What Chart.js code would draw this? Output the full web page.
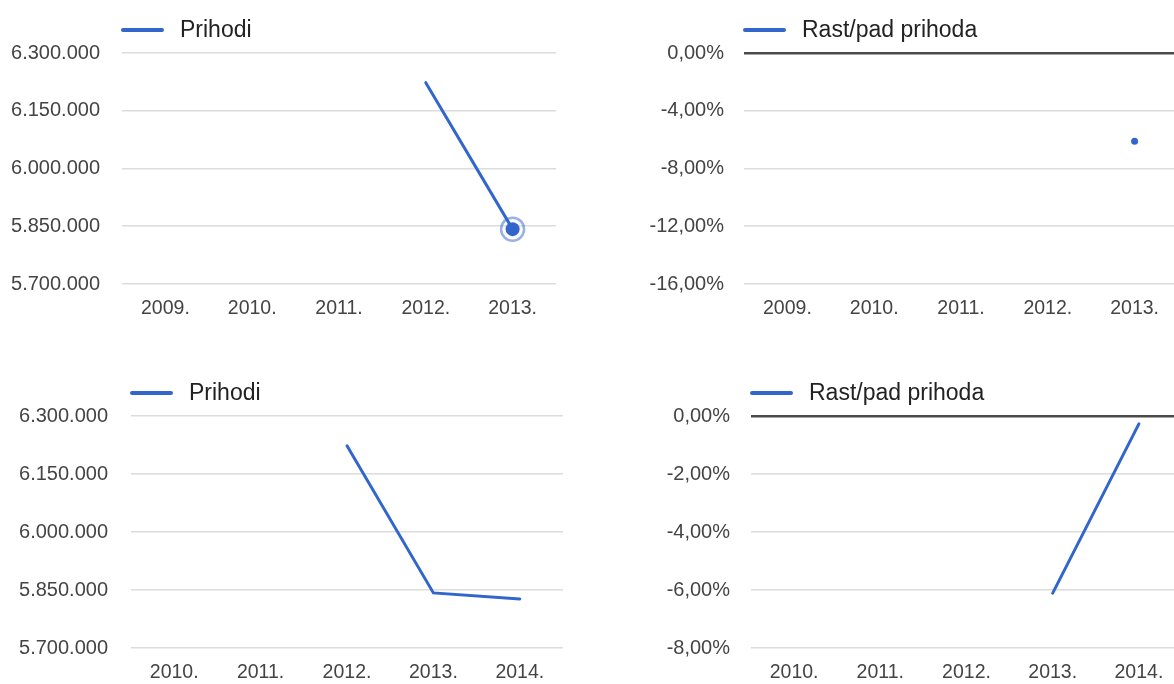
<!DOCTYPE html>
<html>
<head>
<meta charset="utf-8">
<script src="https://cdn.jsdelivr.net/npm/chart.js@4/dist/chart.umd.min.js"></script>
<style>
  html, body { margin: 0; padding: 0; background: #fff; width: 1174px; height: 684px; overflow: hidden; position: relative; }
  .box { position: absolute; }
  .box canvas { display: block; }
</style>
</head>
<body>
<div class="box" id="b1" style="left:0px;top:0px;width:556px;height:324px;"><canvas id="c1"></canvas></div>
<div class="box" id="b2" style="left:622px;top:0px;width:556px;height:324px;"><canvas id="c2"></canvas></div>
<div class="box" id="b3" style="left:9px;top:363px;width:554px;height:325px;"><canvas id="c3"></canvas></div>
<div class="box" id="b4" style="left:629px;top:363px;width:553px;height:325px;"><canvas id="c4"></canvas></div>
<script>
// ---- data ----
const yearsA = ['2009.', '2010.', '2011.', '2012.', '2013.'];
const yearsB = ['2010.', '2011.', '2012.', '2013.', '2014.'];
const prihodiA = [null, null, null, 6223000, 5842500];
const rastA = [null, null, null, null, -6.11];
const prihodiB = [null, null, 6223000, 5842500, 5827000];
const rastB = [null, null, null, -6.11, -0.27];
const labelPrihodi = 'Prihodi';
const labelRast = 'Rast/pad prihoda';
const prihodiAxis = { min: 5700000, max: 6300000, step: 150000 };
const rastAxisA = { min: -16, max: 0, step: 4 };
const rastAxisB = { min: -8, max: 0, step: 2 };

const BLUE = '#3366cc';
const FONT = '"Liberation Sans", Arial, sans-serif';

function fmtThousands(v) {
  return String(Math.round(v)).replace(/\B(?=(\d{3})+(?!\d))/g, '.');
}
function fmtPct(v) {
  return v.toFixed(2).replace('.', ',') + '%';
}

const legendPlugin = {
  id: 'gLegend',
  afterDraw(chart) {
    const ds = chart.data.datasets[0];
    const { ctx, chartArea } = chart;
    const y = chartArea.top - 23;
    ctx.save();
    ctx.strokeStyle = ds.borderColor;
    ctx.lineWidth = 4;
    ctx.lineCap = 'round';
    ctx.beginPath();
    ctx.moveTo(chartArea.left + 1, y);
    ctx.lineTo(chartArea.left + 40, y);
    ctx.stroke();
    ctx.fillStyle = '#222';
    ctx.font = '23px ' + FONT;
    ctx.textBaseline = 'middle';
    ctx.textAlign = 'left';
    ctx.fillText(ds.label, chartArea.left + 58, y + 1);
    ctx.restore();
  }
};

function makeChart(id, labels, datasets, axis, fmt, yPad, zeroLine) {
  return new Chart(document.getElementById(id), {
    type: 'line',
    data: { labels, datasets },
    options: {
      responsive: true,
      maintainAspectRatio: false,
      animation: false,
      events: [],
      layout: { autoPadding: false, padding: { top: 53, left: 0, right: 0, bottom: 0 } },
      plugins: { legend: { display: false }, tooltip: { enabled: false } },
      scales: {
        x: {
          offset: true,
          grid: { display: false, drawTicks: false },
          border: { display: false },
          ticks: { color: '#444', font: { family: FONT, size: 19.5 }, padding: 13, maxRotation: 0, autoSkip: false },
          afterFit(s) { s.height = 40; }
        },
        y: {
          min: axis.min, max: axis.max,
          grid: {
            drawTicks: false,
            color: (c) => (zeroLine && c.tick && c.tick.value === 0) ? '#4a4a4a' : '#dcdcdc',
            lineWidth: (c) => (zeroLine && c.tick && c.tick.value === 0) ? 2.6 : 1.6
          },
          border: { display: false },
          ticks: {
            stepSize: axis.step,
            color: '#444',
            font: { family: FONT, size: 20 },
            padding: yPad,
            callback: (v) => fmt(v)
          },
          afterFit(s) { s.width = 122; }
        }
      }
    },
    plugins: [legendPlugin]
  });
}

// Chart 1: Prihodi 2009-2013 (highlighted last point)
makeChart('c1', yearsA, [
  {
    label: labelPrihodi, data: prihodiA, borderColor: BLUE, backgroundColor: BLUE,
    borderWidth: 3, borderCapStyle: 'round', tension: 0, clip: false,
    pointRadius: [0, 0, 0, 0, 7], pointBackgroundColor: BLUE, pointBorderWidth: 0
  },
  {
    label: '', data: prihodiA, showLine: false, clip: false,
    pointRadius: [0, 0, 0, 0, 11.5], pointBackgroundColor: 'rgba(255,255,255,0)',
    pointBorderColor: 'rgba(51,102,204,0.5)', pointBorderWidth: 2.5
  }
], prihodiAxis, fmtThousands, 22, false);

// Chart 2: Rast/pad prihoda 2009-2013
makeChart('c2', yearsA, [
  {
    label: labelRast, data: rastA, borderColor: BLUE, backgroundColor: BLUE,
    borderWidth: 3, pointRadius: 3.5, pointBackgroundColor: BLUE, pointBorderWidth: 0
  }
], rastAxisA, fmtPct, 20, true);

// Chart 3: Prihodi 2010-2014
makeChart('c3', yearsB, [
  {
    label: labelPrihodi, data: prihodiB, borderColor: BLUE, backgroundColor: BLUE,
    borderWidth: 3, borderCapStyle: 'round', pointRadius: 0, tension: 0
  }
], prihodiAxis, fmtThousands, 23, false);

// Chart 4: Rast/pad prihoda 2010-2014
makeChart('c4', yearsB, [
  {
    label: labelRast, data: rastB, borderColor: BLUE, backgroundColor: BLUE,
    borderWidth: 3, borderCapStyle: 'round', pointRadius: 0, tension: 0
  }
], rastAxisB, fmtPct, 21, true);
</script>
</body>
</html>
